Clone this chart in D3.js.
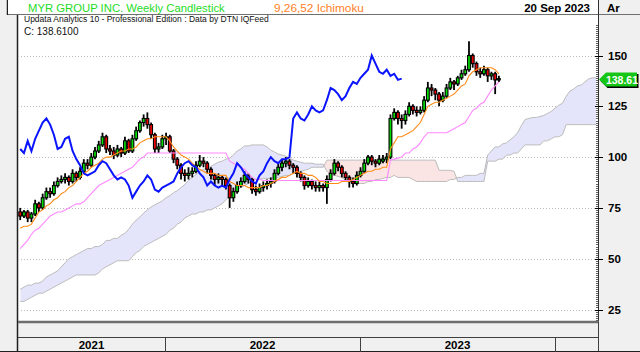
<!DOCTYPE html>
<html>
<head>
<meta charset="utf-8">
<script src="https://cdn.jsdelivr.net/npm/d3@7"></script>
<style>
body { margin: 0; background: #fff; }
svg { display: block; font-family: "Liberation Sans", Arial, sans-serif; }
</style>
</head>
<body>
<div id="chart"></div>
<script>
var width = 640;
var height = 352;

// weekly bars, first bar week of 5 Apr 2021
var firstWeek = "2021-04-05";
var opens = [73,71,73,70,72,77,75,80,83,82,
             86,88,89,90,88,92,90,93,97,96,
             100,103,106,110,104,103,101,104,102,108,
             103,109,113,117,119,116,111,104,105,109,
             110,103,99,96,92,91,92,93,96,98,
             97,94,91,89,90,89,86,80,83,86,
             88,91,89,84,83,85,86,87,88,92,
             95,97,98,96,95,92,90,86,88,86,
             85,86,85,89,92,97,95,92,90,88,
             87,91,93,97,100,98,97,98,99,100,
             119,122,119,118,121,125,123,122,123,128,
             134,133,131,128,130,134,137,136,139,141,
             143,150,146,142,141,143,140,141,138];
var highs = [75,74,74,73,79,78,82,85,85,88,
             90,91,92,91,94,93,95,99,99,102,
             105,108,112,111,106,105,106,105,110,109,
             111,115,118,121,122,117,112,107,111,112,
             111,104,100,97,94,95,95,98,101,100,
             98,95,92,92,91,90,87,85,88,90,
             93,92,90,86,87,88,89,90,94,97,
             99,100,99,97,96,93,91,90,89,88,
             88,87,91,94,99,98,96,93,91,90,
             93,95,99,101,101,99,101,101,102,121,
             124,123,121,123,127,126,125,125,130,137,
             136,134,132,132,136,139,138,140,143,145,
             157,151,147,144,145,144,142,142,140];
var lows = [69,70,68,68,71,73,74,79,80,81,
            85,87,87,86,87,88,89,92,94,95,
            99,102,105,102,101,99,100,100,101,102,
            102,108,112,115,114,109,102,102,104,106,
            102,97,94,89,88,89,90,92,95,95,
            92,89,86,87,86,84,75,78,82,85,
            87,87,82,81,82,83,84,85,87,91,
            93,95,94,92,90,88,84,85,84,83,
            83,83,77,88,91,93,90,88,85,85,
            86,90,92,96,96,95,96,97,97,99,
            118,116,114,116,120,121,120,121,122,127,
            130,128,125,127,129,133,133,135,138,140,
            142,144,140,139,140,137,138,131,137];
var closes = [71,73,70,72,77,75,80,83,82,86,
              88,89,90,88,92,90,93,97,96,100,
              103,106,110,104,103,101,104,102,108,103,
              109,113,117,119,116,111,104,105,109,110,
              103,99,96,92,91,92,93,96,98,97,
              94,91,89,90,89,86,80,83,86,88,
              91,89,84,83,85,86,87,88,92,95,
              97,98,96,95,92,90,86,88,86,85,
              86,85,89,92,97,95,92,90,88,87,
              91,93,97,100,98,97,99,99,100,119,
              122,119,118,121,125,123,122,123,128,134,
              133,131,128,130,134,137,136,139,141,143,
              150,146,142,141,143,140,141,138,138.61];

// Ichimoku 9,26,52
var tenkan = [65,66,66,67,70,73,74,76,77,79,
              80,82,83,85,86,88,90,92,93,95,
              96,97,99,100,100,101,102,103,103,104,
              104,105,107,108,109,109,110,110,110,110,
              108,105,103,101,100,99,97,95,94,93,
              92,92,92,91,91,91,88,87,86,86,
              86,85,85,85,85,86,86,87,88,89,
              90,90,91,92,93,92,92,91,91,90,
              88,88,87,87,87,87,88,88,88,89,
              90,91,92,93,93,94,94,95,95,104,
              107,110,110,111,112,113,115,117,121,125,
              126,127,127,128,129,130,131,133,135,136,
              140,142,143,144,144,144,144,143,141];
var kijun = [55,57,59,62,64,65,67,69,71,72,
             73,73,74,75,76,77,77,78,80,82,
             84,86,87,88,89,90,91,92,93,94,
             95,97,99,100,102,102,102,102,102,102,
             102,102,102,102,102,102,102,102,102,102,
             102,102,102,102,102,102,98,97,96,95,
             94,92,90,89,89,88.5,88.5,88.5,88.5,88.5,
             88.5,88.5,88.5,88.5,88.5,88.5,88.5,88.5,88.5,88.5,
             88.5,88.5,88.5,88.5,88.5,88.5,88.5,88.5,88.5,88.5,
             88.5,88.5,88.5,88.5,88.5,88.5,88.5,88.5,88.5,98.5,
             99,99.5,100,102,102,104,105,107,110,112,
             112,112,112,112,112,113,114,115,116,117,
             120,123,124,126,127,130,133,135,137];
var spanA = [35,36,37,37,38,38,39,41,42,43,
             44,46,48,50,51,52,53,54,55,55,
             56,56,57,59,59,60,60,61.5,62.5,64.5,
             67,69,70.5,72.5,74,75.5,76.5,77.5,78.5,80,
             81,82.5,83.5,85,86.5,88.5,90,91.5,93,94,
             94.5,95.5,96.5,97.5,98,99,99.5,101,103,104,
             105.5,105.5,106,106,106,106,105,103.5,102.5,101.5,
             101,100.5,99.5,98.5,98,97.5,97,97,97,96.5,
             96.5,96.5,93,92,91,90.5,90,88.5,87.5,87,
             87,87,87,88,88,89,89,89.5,90,90,
             91,90,90,90,90,89,88,88,88,88,
             88,88,88,88,88,89,89,90,90,91,
             91,91,91,92,92,101,103,105,105,106.5,
             107,108.5,110,112,115.5,118.5,119,119.5,119.5,120,
             120.5,121.5,122.5,124,125.5,126.5,130,132.5,133.5,135,
             135.5,137,138.5,139,139];
var spanB = [29,29,30,31,32,33,33,34,35,36,
             37,38,39,40,41,42,42,42,42,42,
             42,43,45,46,47,48,49,49,49,49,
             51,53,54,56,57,58,59,60,61,62,
             64,65,67,68,70,71,72,72,73,73,
             74,74,75,76,77,79,81,83,84,85,
             86,87,88,89,89,89.5,89.5,89.5,90,90,
             90.5,91,91,92,92,93,93.5,94,95,95,
             95,95,98.5,98.5,98.5,98.5,98.5,98.5,98.5,98.5,
             98.5,98.5,98.5,98.5,98.5,98.5,98.5,98.5,98.5,98.5,
             98.5,98.5,98.5,98.5,98.5,98.5,98.5,98.5,98.5,98.5,
             98.5,98.5,93.5,93.5,93.5,93.5,93,88,88,88,
             88,88,88,88,88,98,98,98,99,99,
             101,101,102,102,104,106,106,106,106,106,
             108,108,109,110,110,111,116,116,116,116,
             116,116,116,116,116];
var chikouShift = 26;

var yTicks = [25, 50, 75, 100, 125, 150];
var years = [2021, 2022, 2023, 2024];
var lastLabel = "138.61";

var plotLeft = 18, plotRight = 598, plotTop = 15, plotBottom = 321;

var svg = d3.select("#chart").append("svg")
    .attr("width", width)
    .attr("height", height);

var x = d3.scaleTime()
    .domain([new Date(2022, 0, 1), new Date(2023, 0, 1)])
    .range([165, 360]);
var y = d3.scaleLinear()
    .domain([25, 150])
    .range([309.5, 55.5]);

var start = d3.timeParse("%Y-%m-%d")(firstWeek);
var weekX = function(i) { return x(d3.timeWeek.offset(start, i)); };

// frame
svg.append("rect").attr("width", width).attr("height", height).attr("fill", "#f0f0f0");
svg.append("rect").attr("x", plotLeft).attr("y", 0)
    .attr("width", plotRight - plotLeft).attr("height", plotBottom)
    .attr("fill", "#fff");
svg.append("line").attr("x1", 8).attr("x2", width).attr("y1", 14.5).attr("y2", 14.5)
    .attr("stroke", "#707070");
svg.append("line").attr("x1", plotLeft - 0.5).attr("x2", plotLeft - 0.5)
    .attr("y1", 15).attr("y2", height).attr("stroke", "#202020").attr("stroke-width", 1.5);
svg.append("line").attr("x1", 7.5).attr("x2", 7.5)
    .attr("y1", 0).attr("y2", 15).attr("stroke", "#202020").attr("stroke-width", 1.5);

svg.append("defs").append("clipPath").attr("id", "plotclip")
    .append("rect").attr("x", plotLeft).attr("y", plotTop)
    .attr("width", plotRight - plotLeft).attr("height", plotBottom - plotTop);

// grid
svg.append("g").selectAll("line").data(yTicks).enter().append("line")
    .attr("x1", plotLeft).attr("x2", plotRight)
    .attr("y1", function(d) { return Math.round(y(d)) + 0.5; })
    .attr("y2", function(d) { return Math.round(y(d)) + 0.5; })
    .attr("stroke", "#bdbdbd").attr("stroke-dasharray", "1,2");

var plot = svg.append("g").attr("clip-path", "url(#plotclip)");

// cloud
var cloudIdx = d3.range(spanA.length);
var band = d3.area()
    .x(function(i) { return weekX(i); })
    .y0(function(i) { return y(spanA[i]); })
    .y1(function(i) { return y(spanB[i]); });
var aboveB = d3.area()
    .x(function(i) { return weekX(i); })
    .y0(function(i) { return y(spanB[i]); })
    .y1(plotTop);
var belowB = d3.area()
    .x(function(i) { return weekX(i); })
    .y0(function(i) { return y(spanB[i]); })
    .y1(plotBottom);
var defs = svg.select("defs");
defs.append("clipPath").attr("id", "upclip").append("path").attr("d", aboveB(cloudIdx));
defs.append("clipPath").attr("id", "downclip").append("path").attr("d", belowB(cloudIdx));
plot.append("path").attr("d", band(cloudIdx)).attr("fill", "#e4e4fa")
    .attr("clip-path", "url(#upclip)");
plot.append("path").attr("d", band(cloudIdx)).attr("fill", "#fbe4e4")
    .attr("clip-path", "url(#downclip)");

var lineOf = function(arr) {
    return d3.line()
        .x(function(d, i) { return weekX(i); })
        .y(function(d) { return y(d); })(arr);
};
plot.append("path").attr("d", lineOf(spanA)).attr("fill", "none")
    .attr("stroke", "#bcbcbc").attr("stroke-width", 1);
plot.append("path").attr("d", lineOf(spanB)).attr("fill", "none")
    .attr("stroke", "#bcbcbc").attr("stroke-width", 1);

// candles
var bars = plot.append("g").selectAll("g").data(closes).enter().append("g");
bars.append("line")
    .attr("x1", function(d, i) { return weekX(i); })
    .attr("x2", function(d, i) { return weekX(i); })
    .attr("y1", function(d, i) { return y(highs[i]); })
    .attr("y2", function(d, i) { return y(lows[i]); })
    .attr("stroke", "#000").attr("stroke-width", 1.8);
bars.append("rect")
    .attr("x", function(d, i) { return weekX(i) - 1.4; })
    .attr("width", 2.8)
    .attr("y", function(d, i) { return y(Math.max(opens[i], d)); })
    .attr("height", function(d, i) { return Math.max(1, Math.abs(y(opens[i]) - y(d))); })
    .attr("fill", function(d, i) { return d >= opens[i] ? "#00dd00" : "#ee0000"; })
    .attr("stroke", "#000").attr("stroke-width", 1.1);

// ichimoku lines
plot.append("path").attr("d", lineOf(kijun)).attr("fill", "none")
    .attr("stroke", "#ff88ff").attr("stroke-width", 1.1);
plot.append("path").attr("d", lineOf(tenkan)).attr("fill", "none")
    .attr("stroke", "#ff8c1a").attr("stroke-width", 1.1);
var chikou = d3.line()
    .x(function(d, i) { return weekX(i); })
    .y(function(d) { return y(d); });
plot.append("path").attr("d", chikou(closes.slice(chikouShift)))
    .attr("fill", "none").attr("stroke", "#0a14ff").attr("stroke-width", 2);

// right axis
var axis = svg.append("g");
axis.append("line").attr("x1", plotRight + 0.5).attr("x2", plotRight + 0.5)
    .attr("y1", 15).attr("y2", plotBottom + 2).attr("stroke", "#303030");
axis.selectAll(".minor").data(d3.range(20, 166)).enter().append("line")
    .attr("x1", plotRight - 2).attr("x2", plotRight)
    .attr("y1", function(d) { return Math.round(y(d)) + 0.5; })
    .attr("y2", function(d) { return Math.round(y(d)) + 0.5; })
    .attr("stroke", "#606060");
axis.selectAll(".major").data(yTicks).enter().append("line")
    .attr("x1", plotRight - 3).attr("x2", plotRight + 5)
    .attr("y1", function(d) { return Math.round(y(d)) + 0.5; })
    .attr("y2", function(d) { return Math.round(y(d)) + 0.5; })
    .attr("stroke", "#000");
axis.selectAll("text").data(yTicks).enter().append("text")
    .attr("x", 608).attr("y", function(d) { return y(d) + 4; })
    .style("font-size", "11.5px").style("font-weight", "bold")
    .text(function(d) { return d; });

// last price tag
var ty = Math.round(y(closes[closes.length - 1])) + 0.5;
var tag = "M" + (plotRight + 1) + "," + ty + " L" + (plotRight + 8) + "," + (ty - 7) +
          " L637," + (ty - 7) + " L637," + (ty + 7) + " L" + (plotRight + 8) + "," + (ty + 7) + " Z";
svg.append("path").attr("d", tag).attr("fill", "#000").attr("transform", "translate(1.5,1.5)");
svg.append("path").attr("d", tag).attr("fill", "#16c616");
svg.append("text").attr("x", 622).attr("y", ty + 4)
    .attr("text-anchor", "middle")
    .attr("fill", "#fff").style("font-size", "10.5px").style("font-weight", "bold")
    .text(lastLabel);

// header
svg.append("rect").attr("x", 8).attr("y", 0).attr("width", plotRight - 8).attr("height", 14)
    .attr("fill", "#fff");
svg.append("line").attr("x1", plotRight + 0.5).attr("x2", plotRight + 0.5)
    .attr("y1", 0).attr("y2", 15).attr("stroke", "#303030");
svg.append("text").attr("x", 28).attr("y", 11.5)
    .attr("fill", "#1fdc1f").style("font-size", "11.3px")
    .text("MYR GROUP INC. Weekly Candlestick");
svg.append("text").attr("x", 274).attr("y", 11.5)
    .attr("fill", "#ff7f27").style("font-size", "11.8px")
    .text("9,26,52 Ichimoku");
svg.append("text").attr("x", 590).attr("y", 11.5).attr("text-anchor", "end")
    .style("font-size", "11.5px").style("font-weight", "bold")
    .text("20 Sep 2023");
svg.append("text").attr("x", 607).attr("y", 11.5)
    .style("font-size", "11.5px").style("font-weight", "bold")
    .text("Ar");
svg.append("text").attr("x", 24).attr("y", 21.5)
    .style("font-size", "8.5px").attr("fill", "#111")
    .text("Updata Analytics 10 - Professional Edition : Data by DTN IQFeed");
svg.append("text").attr("x", 24).attr("y", 35)
    .style("font-size", "10px").attr("fill", "#111")
    .text("C: 138.6100");

// bottom strip and time axis
svg.append("line").attr("x1", plotLeft).attr("x2", plotRight + 1)
    .attr("y1", 322).attr("y2", 322).attr("stroke", "#6e6e6e").attr("stroke-width", 2.5);
svg.append("line").attr("x1", plotLeft).attr("x2", plotRight + 1)
    .attr("y1", 337.5).attr("y2", 337.5).attr("stroke", "#404040");
svg.append("line").attr("x1", plotRight + 0.5).attr("x2", plotRight + 0.5)
    .attr("y1", 322).attr("y2", height).attr("stroke", "#404040");
svg.append("line").attr("x1", 0).attr("x2", width)
    .attr("y1", 351.5).attr("y2", 351.5).attr("stroke", "#202020");

var bounds = years.map(function(yr) { return x(new Date(yr, 0, 1)); });
svg.append("g").selectAll("line").data(bounds.filter(function(b) { return b > plotLeft && b < plotRight; }))
    .enter().append("line")
    .attr("x1", function(d) { return Math.round(d) + 0.5; })
    .attr("x2", function(d) { return Math.round(d) + 0.5; })
    .attr("y1", 338).attr("y2", height).attr("stroke", "#404040");
svg.append("g").selectAll("text").data(years.slice(0, 3)).enter().append("text")
    .attr("x", function(d, i) {
        var a = Math.max(plotLeft, bounds[i]), b = Math.min(plotRight, bounds[i + 1]);
        return (a + b) / 2;
    })
    .attr("y", 349)
    .attr("text-anchor", "middle")
    .style("font-size", "11.5px").style("font-weight", "bold")
    .text(function(d) { return d; });
</script>
</body>
</html>
